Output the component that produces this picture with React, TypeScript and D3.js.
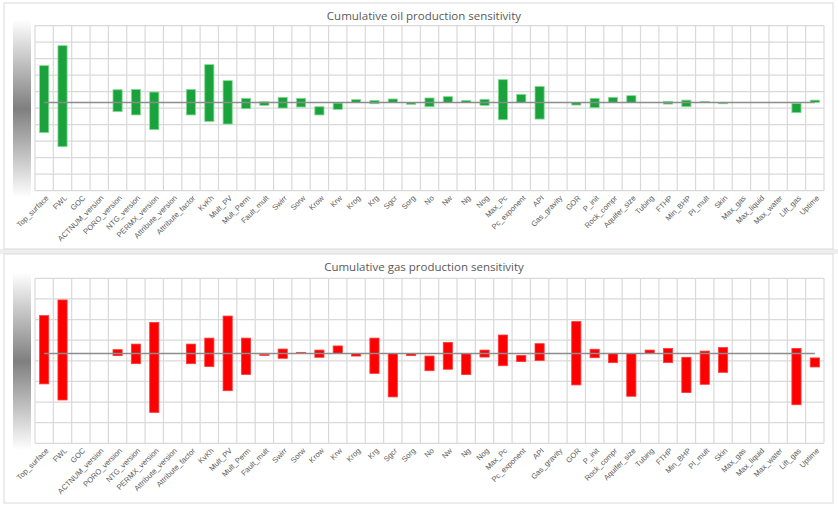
import React from 'react';
import * as d3 from 'd3';

// parameter names along the x axis
const categories = [
  'Top_surface', 'FWL', 'GOC', 'ACTNUM_version', 'PORO_version', 'NTG_version', 'PERMX_version',
  'Attribute_version', 'Attribute_factor', 'KvKh', 'Mult_PV', 'Mult_Perm', 'Fault_mult', 'Swirr',
  'Sorw', 'Krow', 'Krw', 'Krog', 'Krg', 'Sgcr', 'Sorg', 'No', 'Nw', 'Ng', 'Nog', 'Max_Pc',
  'Pc_exponent', 'API', 'Gas_gravity', 'GOR', 'P_init', 'Rock_compr', 'Aquifer_size', 'Tubing',
  'FTHP', 'Min_BHP', 'PI_mult', 'Skin', 'Max_gas', 'Max_liquid', 'Max_water', 'Lift_gas', 'Uptime',
];

// oil: low / high of each bar (null = no bar), base case value
const oilBase = 5.35;
const oilHigh: (number | null)[] = [
  7.58, 8.79, null, null, 6.12, 6.14, 5.98, null, 6.14, 7.64, 6.67, 5.6, 5.39, 5.66,
  5.6, 5.09, 5.31, 5.52, 5.47, 5.56, 5.33, 5.62, 5.7, 5.47, 5.54, 6.73,
  5.84, 6.32, null, 5.35, 5.6, 5.66, 5.76, null,
  5.41, 5.49, 5.41, 5.35, null, null, null, 5.29, 5.49,
];
const oilLow: (number | null)[] = [
  3.52, 2.67, null, null, 4.79, 4.59, 3.7, null, 4.59, 4.2, 4.04, 4.97, 5.17, 5.01,
  5.07, 4.59, 4.93, 5.35, 5.27, 5.35, 5.23, 5.09, 5.35, 5.35, 5.17, 4.3,
  5.35, 4.34, null, 5.19, 5.03, 5.35, 5.35, null,
  5.25, 5.09, 5.35, 5.27, null, null, null, 4.73, 5.35,
];

// gas: low / high of each bar, base case value
const gasBase = 4.35;
const gasHigh: (number | null)[] = [
  6.19, 6.95, null, null, 4.54, 4.81, 5.86, null, 4.81, 5.1, 6.17, 5.1, 4.31, 4.57,
  4.41, 4.52, 4.72, 4.35, 5.1, 4.35, 4.35, 4.23, 4.89, 4.35, 4.52, 5.25,
  4.26, 4.83, null, 5.9, 4.56, 4.35, 4.35, 4.52,
  4.6, 4.17, 4.47, 4.64, null, null, null, 4.6, 4.14,
];
const gasLow: (number | null)[] = [
  2.88, 2.1, null, null, 4.25, 3.86, 1.5, null, 3.86, 3.72, 2.55, 3.34, 4.26, 4.12,
  4.35, 4.17, 4.36, 4.23, 3.39, 2.25, 4.25, 3.52, 3.59, 3.33, 4.18, 3.76,
  3.96, 4.01, null, 2.83, 4.15, 3.91, 2.28, 4.36,
  3.91, 2.46, 2.86, 3.44, null, null, null, 1.87, 3.7,
];

const W = 838;
const H = 507;
const textColor = '#595959';
const gridColor = '#d9d9d9';

interface PanelProps {
  id: string;
  title: string;
  top: number;     // panel frame top
  bottom: number;  // panel frame bottom
  plotTop: number;
  plotBottom: number;
  yMax: number;
  base: number;
  low: (number | null)[];
  high: (number | null)[];
  fill: string;
  stroke: string;
}

const Panel: React.FC<PanelProps> = ({
  id, title, top, bottom, plotTop, plotBottom, yMax, base, low, high, fill, stroke,
}) => {
  const x = d3.scaleBand<string>().domain(categories).range([35, 824]).paddingInner(0.5).paddingOuter(0.25);
  const y = d3.scaleLinear().domain([0, yMax]).range([plotBottom, plotTop]);
  const step = x.step();
  const left = 35;
  const right = 824;
  const cx = (c: string) => x(c)! + x.bandwidth() / 2;

  // vertical grid lines at category boundaries
  const vlines = d3.range(categories.length + 1).map((i) => left + i * ((right - left) / categories.length));

  return (
    <g>
      <defs>
        <linearGradient id={`grad-${id}`} x1="0" y1="0" x2="0" y2="1">
          <stop offset="0%" stopColor="#ffffff" />
          <stop offset="50%" stopColor="#7f7f7f" />
          <stop offset="100%" stopColor="#ffffff" />
        </linearGradient>
      </defs>
      <rect x={4} y={top} width={829} height={bottom - top} fill="#ffffff" stroke="#d9d9d9" strokeWidth={1} />
      <text x={424} y={top + 17} textAnchor="middle" fontFamily="Open Sans, sans-serif" fontSize={11.5} fill={textColor}>
        {title}
      </text>
      <rect x={13} y={plotTop - 6} width={18} height={plotBottom - plotTop + 13} fill={`url(#grad-${id})`} />
      {/* horizontal grid */}
      {y.ticks(yMax).map((t) => (
        <line key={`h${t}`} x1={left} x2={right} y1={y(t)} y2={y(t)} stroke={gridColor} strokeWidth={1.2} />
      ))}
      {vlines.map((vx, i) => (
        <line key={`v${i}`} x1={vx} x2={vx} y1={plotTop} y2={plotBottom} stroke={gridColor} strokeWidth={1.2} />
      ))}
      {/* floating bars */}
      {categories.map((c, i) => {
        const hi = high[i];
        const lo = low[i];
        if (hi == null || lo == null) return null;
        const y0 = y(hi);
        const h = Math.max(1, y(lo) - y(hi));
        return (
          <rect key={c} x={x(c)} y={y0} width={x.bandwidth()} height={h} fill={fill} stroke={stroke} strokeWidth={0.8} />
        );
      })}
      {/* base case line */}
      <line
        x1={cx(categories[0])}
        x2={cx(categories[categories.length - 1])}
        y1={y(base)}
        y2={y(base)}
        stroke="#8c8c8c"
        strokeWidth={1.5}
      />
      {categories.map((c) => (
        <text
          key={`l${c}`}
          transform={`translate(${cx(c) + 3},${plotBottom + 6}) rotate(-45)`}
          textAnchor="end"
          dy="0.35em"
          fontFamily="Liberation Sans, Arial, sans-serif"
          fontSize={7.6}
          fill={textColor}
        >
          {c}
        </text>
      ))}
      {step ? null : null}
    </g>
  );
};

export default function App() {
  return (
    <svg width={W} height={H} style={{ position: 'absolute', left: 0, top: 0 }}>
      <rect width={W} height={H} fill="#ffffff" />
      <rect x={0} y={249} width={W} height={5} fill="#eeeeee" />
      <Panel
        id="oil"
        title="Cumulative oil production sensitivity"
        top={3}
        bottom={249}
        plotTop={25.7}
        plotBottom={190.7}
        yMax={10}
        base={oilBase}
        low={oilLow}
        high={oilHigh}
        fill="#1aa33c"
        stroke="#86dc95"
      />
      <Panel
        id="gas"
        title="Cumulative gas production sensitivity"
        top={254}
        bottom={503}
        plotTop={278.3}
        plotBottom={443.3}
        yMax={8}
        base={gasBase}
        low={gasLow}
        high={gasHigh}
        fill="#ff0000"
        stroke="#ff3b3b"
      />
    </svg>
  );
}
